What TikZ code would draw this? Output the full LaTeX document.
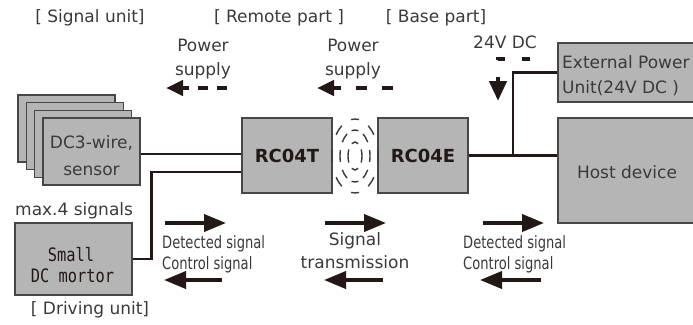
\documentclass[tikz,border=0pt]{standalone}
\usepackage{fontspec}
\setmainfont{DejaVu Sans}
\newfontfamily\condfont[FakeStretch=0.77]{DejaVu Sans}
\newfontfamily\motorfont[FakeStretch=0.83]{DejaVu Sans Mono}
\usetikzlibrary{arrows.meta,calc}
\definecolor{boxgray}{HTML}{B5B5B5}
\definecolor{edgegray}{HTML}{474747}
\definecolor{inkblack}{HTML}{231815}
\definecolor{txtgray}{HTML}{3A3A3A}
\begin{document}
\begin{tikzpicture}[x=1pt,y=-1pt,
  box/.style={draw=edgegray,fill=boxgray,line width=1.3pt,inner sep=0pt},
  lbl/.style={text=txtgray,font=\fontsize{17}{20}\selectfont,anchor=base,inner sep=0pt},
  lblw/.style={lbl,anchor=base west},
  cond/.style={text=txtgray,font=\condfont\fontsize{17}{20}\selectfont,anchor=base west,inner sep=0pt},
  motor/.style={text=inkblack,font=\motorfont\fontsize{18.5}{22}\selectfont,anchor=base,inner sep=0pt},
  rc/.style={text=inkblack,font=\bfseries\fontsize{18}{20}\selectfont,inner sep=0pt},
  wire/.style={draw=inkblack,line width=2.6pt},
  sig/.style={draw=inkblack,line width=3.8pt,-{Triangle[length=22pt,width=17pt]}},
  pow/.style={draw=inkblack,line width=4.5pt,-{Triangle[length=17pt,width=15pt]}},
  wave/.style={draw=txtgray,line width=1.4pt}]
\useasboundingbox (0,0) rectangle (693,324);

% top labels
\node[lbl] (lsig) at (90,23) {[ Signal unit]};
\node[lbl] (lrem) at (279,23) {[ Remote part ]};
\node[lbl] (lbas) at (436,23) {[ Base part]};

% sensor stack
\node[box,minimum width=97pt,minimum height=67pt] (s1) at (66.5,128.5) {};
\node[box,minimum width=97pt,minimum height=67pt] (s2) at (74.8,136.2) {};
\node[box,minimum width=97pt,minimum height=67pt] (s3) at (83.2,143.8) {};
\node[box,minimum width=97pt,minimum height=67pt] (s4) at (91.5,151.5) {};
\node[lbl] (st1) at (91.5,148) {DC3-wire,};
\node[lbl] (st2) at (91.5,175) {sensor};

% transmitter / receiver
\node[box,minimum width=90pt,minimum height=75pt] (t) at (287,155.5) {};
\node[rc] (tl) at (t) {RC04T};
\node[box,minimum width=90pt,minimum height=75pt] (e) at (423,155.5) {};
\node[rc] (el) at (e) {RC04E};

% external power, host
\node[box,minimum width=142pt,minimum height=59pt] (ext) at (629,72.5) {};
\node[lblw] (ext1) at (562,68) {External Power};
\node[lblw] (ext2) at (562,93) {Unit(24V DC )};
\node[box,minimum width=142pt,minimum height=105pt] (h) at (629,170.5) {};
\node[lbl] (hl) at (627,178) {Host device};

% motor
\node[lblw] (max) at (15,215) {max.4 signals};
\node[box,minimum width=117pt,minimum height=72pt] (m) at (73.5,259) {};
\node[motor] (m1) at (71,261) {Small};
\node[motor] (m2) at (72.5,282) {DC mortor};
\node[lbl] (ldrv) at (90,314) {[ Driving unit]};

% wires
\path (s4.east) ++(0,2.5) coordinate (s4o);
\draw[wire] (s4o) -- (s4o -| t.west);
\draw[wire] (t.west) ++(0,16.5) -- ++(-90,0) |- (m.east);
\draw[wire] (e.east) -- (e.east -| h.west);
\coordinate (j) at ($(e.east)!0.5!(e.east -| h.west)$);
\draw[wire] (j) |- (ext.west);

% wireless waves
\coordinate (w) at (355,156);
\foreach \a in {0,45,...,315}{
  \draw[wave] (w) ++({\a-10}:23 and 37) arc[start angle={\a-10}, end angle={\a+10}, x radius=23, y radius=37];
  \draw[wave] (w) ++({\a-13}:15 and 26) arc[start angle={\a-13}, end angle={\a+13}, x radius=15, y radius=26];
}
\foreach \a in {0,90,180,270}{
  \draw[wave] (w) ++({\a-28}:7 and 14) arc[start angle={\a-28}, end angle={\a+28}, x radius=7, y radius=14];
}

% power supply arrows
\node[lbl] (pw1) at (203,51) {Power};
\node[lbl] (ps1) at (203,75) {supply};
\coordinate (p1s) at (227,88);
\coordinate (p1e) at (166,88);
\draw[pow,dash pattern=on 10pt off 9pt] (p1s) -- (p1e);
\node[lbl] (pw2) at (353,51) {Power};
\node[lbl] (ps2) at (353,75) {supply};
\coordinate (p2s) at (393,88);
\coordinate (p2e) at (317,88);
\draw[pow,dash pattern=on 11pt off 15pt] (p2s) -- (p2e);
\node[lbl] (v24) at (505,48) {24V DC};
\coordinate (q1) at (530,59);
\coordinate (q2) at (498,59);
\coordinate (q3) at (498,101);
\draw[pow,-{Triangle[length=20pt,width=17pt]},dash pattern=on 8pt off 17pt] (q1) -- (q2) -- (q3);

% signal arrows, left
\coordinate (a1s) at (165,223); \coordinate (a1e) at (226,223);
\coordinate (a2s) at (222,280); \coordinate (a2e) at (164,280);
\draw[sig] (a1s) -- (a1e);
\draw[sig] (a2s) -- (a2e);
\node[cond] (d1) at (162,248) {Detected signal};
\node[cond] (c1) at (162,269) {Control signal};
% middle
\coordinate (b1s) at (325,223); \coordinate (b1e) at (386,223);
\coordinate (b2s) at (383,280); \coordinate (b2e) at (324,280);
\draw[sig] (b1s) -- (b1e);
\draw[sig] (b2s) -- (b2e);
\node[lbl] (sg1) at (355,245) {Signal};
\node[lbl] (sg2) at (355,268) {transmission};
% right
\coordinate (c1s) at (483,223); \coordinate (c1e) at (544,223);
\coordinate (c2s) at (541,280); \coordinate (c2e) at (480,280);
\draw[sig] (c1s) -- (c1e);
\draw[sig] (c2s) -- (c2e);
\node[cond] (d2) at (463,248) {Detected signal};
\node[cond] (c2) at (463,269) {Control signal};
\end{tikzpicture}
\end{document}
